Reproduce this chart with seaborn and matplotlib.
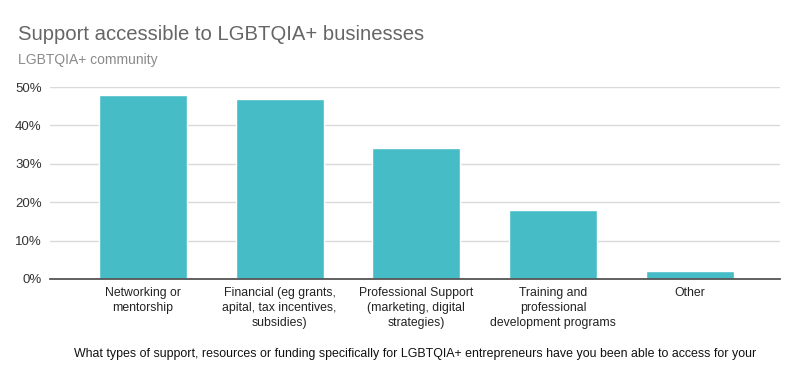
import matplotlib
matplotlib.use("Agg")
import matplotlib.pyplot as plt
import seaborn as sns
import pandas as pd
from matplotlib.ticker import PercentFormatter

categories = [
    "Networking or\nmentorship",
    "Financial (eg grants,\napital, tax incentives,\nsubsidies)",
    "Professional Support\n(marketing, digital\nstrategies)",
    "Training and\nprofessional\ndevelopment programs",
    "Other",
]
values = [0.48, 0.47, 0.34, 0.18, 0.02]
yticks = [0, 0.1, 0.2, 0.3, 0.4, 0.5]

title = "Support accessible to LGBTQIA+ businesses"
subtitle = "LGBTQIA+ community"
xlabel = "What types of support, resources or funding specifically for LGBTQIA+ entrepreneurs have you been able to access for your"

sns.set_theme(style="white")
plt.rcParams['font.family'] = ['Liberation Sans', 'DejaVu Sans']

df = pd.DataFrame({"cat": categories, "val": values})

fig = plt.figure(figsize=(8, 3.8), dpi=100)
ax = fig.add_axes([0.0625, 0.266, 0.9125, 0.505])

sns.barplot(data=df, x="cat", y="val", color="#46BDC6", saturation=1,
            width=0.645, ax=ax, zorder=3)

ax.set_ylim(0, 0.5)
ax.set_xlim(-0.68, 4.66)
ax.set_yticks(yticks)
ax.yaxis.set_major_formatter(PercentFormatter(1.0, decimals=0))
ax.grid(axis="y", color="#d9d9d9", linewidth=1, zorder=0)
ax.set_axisbelow(True)
for s in ["top", "right", "left"]:
    ax.spines[s].set_visible(False)
ax.spines["bottom"].set_color("#555555")
ax.spines["bottom"].set_linewidth(1.3)
ax.spines["bottom"].set_zorder(4)
ax.tick_params(axis="y", length=0, labelsize=9.5, colors="#333333", pad=6)
ax.tick_params(axis="x", length=0, labelsize=8.8, colors="#222222", pad=6)
for lbl in ax.get_xticklabels():
    lbl.set_linespacing(1.3)
ax.set_ylabel("")
ax.set_xlabel(xlabel, fontsize=8.9, color="#111111", labelpad=14)

fig.text(0.0225, 0.895, title, fontsize=14.6, color="#666666", ha="left", va="baseline")
fig.text(0.0225, 0.832, subtitle, fontsize=10, color="#8a8a8a", ha="left", va="baseline")

fig.savefig("out.png", dpi=100, facecolor="white")
